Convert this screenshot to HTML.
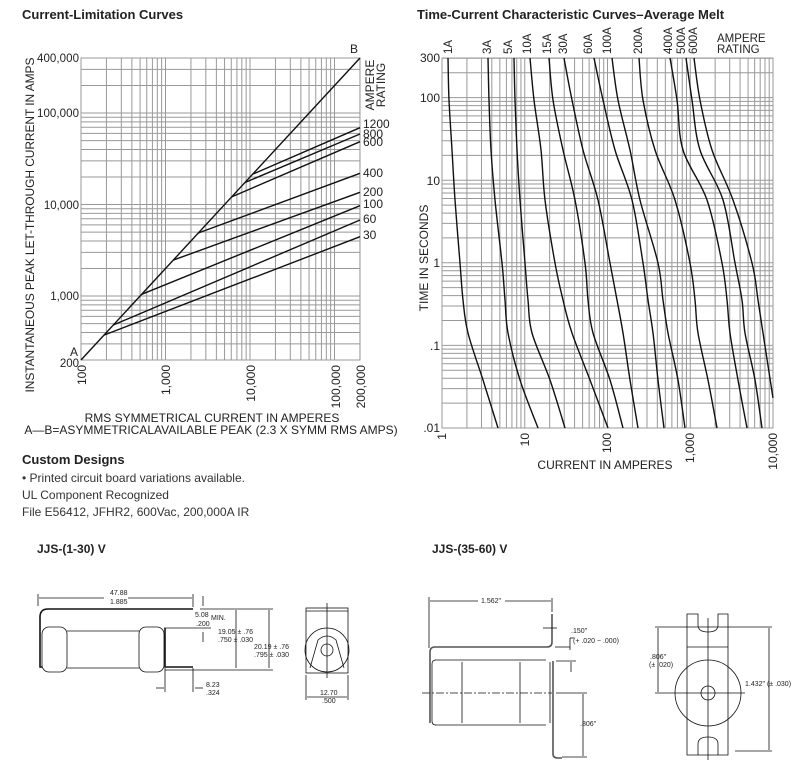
<!DOCTYPE html>
<html><head><meta charset="utf-8">
<style>
html,body{margin:0;padding:0;background:#fff;}
body{width:803px;height:771px;overflow:hidden;position:relative;font-family:"Liberation Sans",sans-serif;}
svg{position:absolute;left:0;top:0;}
</style></head>
<body>
<svg id="s" width="803" height="771" viewBox="0 0 803 771" xmlns="http://www.w3.org/2000/svg" font-family="Liberation Sans, sans-serif">
<g id="gl"></g>
<g id="gr"></g>
<text x="22" y="19" font-size="13" font-weight="bold" fill="#222">Current-Limitation Curves</text>
<text x="417" y="19" font-size="13" font-weight="bold" fill="#222">Time-Current Characteristic Curves–Average Melt</text>

<g font-size="11.5" fill="#222" text-anchor="end">
<text x="79" y="62" textLength="42">400,000</text>
<text x="79" y="117" textLength="42">100,000</text>
<text x="79" y="209">10,000</text>
<text x="79" y="300">1,000</text>
<text x="79" y="367">200</text>
</g>
<text x="70" y="356" font-size="12" fill="#222">A</text>
<text x="350" y="53" font-size="12" fill="#222">B</text>
<g font-size="12" fill="#222" text-anchor="end">
<text transform="translate(86,365) rotate(-90)">100</text>
<text transform="translate(170,365) rotate(-90)">1,000</text>
<text transform="translate(255,365) rotate(-90)">10,000</text>
<text transform="translate(340,365) rotate(-90)">100,000</text>
<text transform="translate(365,365) rotate(-90)">200,000</text>
</g>
<text transform="translate(34,225) rotate(-90)" font-size="12" fill="#222" text-anchor="middle" textLength="335">INSTANTANEOUS PEAK LET-THROUGH CURRENT IN AMPS</text>
<text x="212" y="422" font-size="12" fill="#222" text-anchor="middle">RMS SYMMETRICAL CURRENT IN AMPERES</text>
<text x="211" y="434" font-size="12" fill="#222" text-anchor="middle">A—B=ASYMMETRICALAVAILABLE PEAK (2.3 X SYMM RMS AMPS)</text>
<g font-size="12" fill="#222" text-anchor="middle">
<text transform="translate(374,85) rotate(-90)">AMPERE</text>
<text transform="translate(385,85) rotate(-90)">RATING</text>
</g>
<g font-size="12" fill="#222">
<text x="363" y="128">1200</text>
<text x="363" y="138">800</text>
<text x="363" y="146">600</text>
<text x="363" y="177">400</text>
<text x="363" y="196">200</text>
<text x="363" y="208">100</text>
<text x="363" y="223">60</text>
<text x="363" y="239">30</text>
</g>

<g font-size="12" fill="#222" text-anchor="end">
<text x="440" y="62">300</text>
<text x="440" y="102">100</text>
<text x="440" y="185">10</text>
<text x="440" y="267">1</text>
<text x="440" y="350">.1</text>
<text x="440" y="432">.01</text>
</g>
<g font-size="12" fill="#222" text-anchor="end">
<text transform="translate(446,433) rotate(-90)">1</text>
<text transform="translate(529,433) rotate(-90)">10</text>
<text transform="translate(611,433) rotate(-90)">100</text>
<text transform="translate(694,433) rotate(-90)">1,000</text>
<text transform="translate(777,433) rotate(-90)">10,000</text>
</g>
<text transform="translate(428,258) rotate(-90)" font-size="12" fill="#222" text-anchor="middle">TIME IN SECONDS</text>
<text x="605" y="469" font-size="12" fill="#222" text-anchor="middle">CURRENT IN AMPERES</text>
<g font-size="11.5" fill="#222">
<text transform="translate(452,54) rotate(-90)">1A</text>
<text transform="translate(491,54) rotate(-90)">3A</text>
<text transform="translate(512,54) rotate(-90)">5A</text>
<text transform="translate(531,54) rotate(-90)">10A</text>
<text transform="translate(551,54) rotate(-90)">15A</text>
<text transform="translate(567,54) rotate(-90)">30A</text>
<text transform="translate(592,54) rotate(-90)">60A</text>
<text transform="translate(611,54) rotate(-90)">100A</text>
<text transform="translate(642,54) rotate(-90)">200A</text>
<text transform="translate(672,54) rotate(-90)">400A</text>
<text transform="translate(685,54) rotate(-90)">500A</text>
<text transform="translate(697,54) rotate(-90)">600A</text>
<text x="717" y="42">AMPERE</text>
<text x="717" y="53">RATING</text>
</g>

<text x="22" y="464" font-size="13" font-weight="bold" fill="#222">Custom Designs</text>
<g font-size="12" fill="#333">
<text x="22" y="482">•  Printed circuit board variations available.</text>
<text x="22" y="499">UL Component Recognized</text>
<text x="22" y="516">File E56412, JFHR2, 600Vac, 200,000A IR</text>
</g>
<text x="37" y="553" font-size="12" font-weight="bold" fill="#222">JJS-(1-30) V</text>
<text x="432" y="553" font-size="12" font-weight="bold" fill="#222">JJS-(35-60) V</text>

<g stroke="#111" fill="none" stroke-width="0.8">
<line x1="38" y1="594" x2="38" y2="606"/><line x1="193" y1="594" x2="193" y2="607"/>
<line x1="39" y1="598" x2="104" y2="598"/><line x1="128" y1="598" x2="192" y2="598"/>
<path d="M193 609 H48 Q40 609 40 617 V667 H44" stroke-width="1.6"/>
<rect x="42" y="627" width="25" height="45" rx="7" fill="#fff"/>
<rect x="139" y="627" width="25" height="45" rx="7" fill="#fff"/>
<line x1="67" y1="631" x2="139" y2="631"/><line x1="67" y1="668" x2="139" y2="668"/>
<path d="M165 628 V667 H193" stroke-width="1.6"/>
<line x1="164" y1="628" x2="211" y2="628"/>
<line x1="165" y1="670" x2="273" y2="670"/>
<line x1="200" y1="609" x2="273" y2="609"/>
<line x1="236" y1="610" x2="236" y2="668"/>
<line x1="269" y1="610" x2="269" y2="668"/>
<line x1="203" y1="596" x2="203" y2="606"/><line x1="203" y1="632" x2="203" y2="642"/>
<line x1="165" y1="668" x2="165" y2="692"/><line x1="193" y1="668" x2="193" y2="692"/>
<line x1="156" y1="688" x2="164" y2="688"/><line x1="195" y1="688" x2="203" y2="688"/>
<rect x="306" y="608" width="42" height="65"/>
<line x1="306" y1="611" x2="348" y2="611"/>
<circle cx="327" cy="650" r="22"/>
<circle cx="327" cy="650" r="6"/>
<path d="M310 668 L318 640 Q327 632 336 640 L344 668"/>
<line x1="327" y1="603" x2="327" y2="678"/>
<line x1="306" y1="675" x2="306" y2="700"/><line x1="348" y1="675" x2="348" y2="700"/>
<line x1="307" y1="697" x2="347" y2="697"/>
</g>
<g font-size="7" fill="#222">
<text x="110" y="595">47.88</text><text x="110" y="604">1.885</text>
<text x="195" y="617">5.08</text><text x="211" y="620">MIN.</text><text x="196" y="626">.200</text>
<text x="218" y="634">19.05 ± .76</text><text x="218" y="642">.750 ± .030</text>
<text x="254" y="649">20.19 ± .76</text><text x="254" y="657">.795 ± .030</text>
<text x="206" y="687">8.23</text><text x="206" y="695">.324</text>
<text x="320" y="695">12.70</text><text x="322" y="703">.500</text>
</g>

<g stroke="#111" fill="none" stroke-width="0.8">
<line x1="429" y1="597" x2="429" y2="648"/><line x1="552" y1="598" x2="552" y2="612"/>
<line x1="430" y1="601" x2="478" y2="601"/><line x1="505" y1="601" x2="551" y2="601"/>
<path d="M552 614 V642 Q552 647 547 647 H435 Q430 647 430 652 V723" stroke-width="1.6" stroke="#555"/>
<path d="M435 660 H546 M435 725 H546"/>
<path d="M432 664 Q432 660 436 660 M432 721 Q432 725 436 725 M432 664 V721"/>
<line x1="462" y1="662" x2="462" y2="723"/><line x1="520" y1="662" x2="520" y2="723"/>
<line x1="550" y1="662" x2="550" y2="723"/>
<line x1="422" y1="693" x2="552" y2="693" stroke-dasharray="8,2,2,2"/>
<path d="M553 661 V754 Q553 758 558 758 H562" stroke-width="1.6" stroke="#555"/>
<line x1="556" y1="661" x2="576" y2="661"/>
<line x1="556" y1="693" x2="587" y2="693"/>
<line x1="562" y1="757" x2="587" y2="757"/>
<line x1="583" y1="694" x2="583" y2="756"/>
<line x1="571" y1="662" x2="571" y2="672"/>
<line x1="555" y1="647" x2="570" y2="647"/>
<line x1="570" y1="638" x2="570" y2="650"/><line x1="570" y1="638" x2="574" y2="638"/>
<line x1="543" y1="628" x2="557" y2="628"/>
<path d="M687 614 V755 H728 V614 H718 V625 Q718 632 708 632 Q698 632 698 625 V614 Z"/>
<path d="M698 755 V744 Q698 737 708 737 Q718 737 718 744 V755"/>
<line x1="687" y1="647" x2="728" y2="647"/>
<circle cx="708" cy="693" r="33"/>
<circle cx="708" cy="693" r="7"/>
<line x1="708" y1="618" x2="708" y2="760"/>
<line x1="655" y1="627" x2="772" y2="627"/>
<line x1="655" y1="693" x2="745" y2="693"/>
<line x1="735" y1="751" x2="772" y2="751"/>
<line x1="658" y1="628" x2="658" y2="692"/>
<line x1="769" y1="628" x2="769" y2="750"/>
</g>
<g font-size="7" fill="#222">
<text x="481" y="603">1.562"</text>
<text x="571" y="633">.150"</text><text x="573" y="643">(+ .020 − .000)</text>
<text x="580" y="726">.806"</text>
<text x="650" y="659">.806"</text><text x="649" y="667">(± .020)</text>
<text x="745" y="686">1.432" (± .030)</text>
</g>
</svg>
<script>
var NS="http://www.w3.org/2000/svg";
function el(p,t,a){var e=document.createElementNS(NS,t);for(var k in a)e.setAttribute(k,a[k]);p.appendChild(e);return e;}
var gl=document.getElementById('gl'),gr=document.getElementById('gr');
var L=Math.log10;
function lx(v){return 81+84.5*L(v/100);} function ly(v){return 360-91.5*L(v/200);}
var g='#999';
[100,1000,10000,100000].forEach(function(d){for(var m=1;m<10;m++){var v=d*m;if(v<100||v>200000)continue;var x=lx(v);el(gl,'line',{x1:x,y1:58,x2:x,y2:360,stroke:g,'stroke-width':1});}});
[100,1000,10000,100000].forEach(function(d){for(var m=1;m<10;m++){var v=d*m;if(v<200||v>400000)continue;var y=ly(v);el(gl,'line',{x1:81,y1:y,x2:360,y2:y,stroke:g,'stroke-width':1});}});
el(gl,'rect',{x:81,y:58,width:279,height:302,fill:'none',stroke:g,'stroke-width':1});
el(gl,'line',{x1:81,y1:360,x2:360,y2:58,stroke:'#111','stroke-width':1.4});
var br=[[252.7,127.7],[245,134],[231.7,141.7],[198.3,173.3],[173.3,192.3],[141.7,205.7],[113.3,220],[104,236.7]];
br.forEach(function(b){var y0=360-(b[0]-81)*302/279;el(gl,'line',{x1:b[0],y1:y0,x2:360,y2:b[1],stroke:'#111','stroke-width':1.4});});
function rx(v){return 442+82.75*L(v);} function ry(v){return 428-82.6*L(v/0.01);}
[1,10,100,1000].forEach(function(d){for(var m=1;m<10;m++){var x=rx(d*m);el(gr,'line',{x1:x,y1:58,x2:x,y2:428,stroke:g,'stroke-width':1});}});
[0.01,0.1,1,10,100].forEach(function(d){for(var m=1;m<10;m++){var v=d*m;if(v>300.1)continue;var y=ry(v);el(gr,'line',{x1:442,y1:y,x2:773,y2:y,stroke:g,'stroke-width':1});}});
el(gr,'rect',{x:442,y:58,width:331,height:370,fill:'none',stroke:g,'stroke-width':1});
var ys=[58,100,150,200,263,300,333,380,428];
var cs=[
[448,449,452,455,460,463,468,483,498],
[488,489,491,495,502,505,508,520,538],
[514,515,517,520,525,528,532,550,565],
[530,534,541,545,555,563,572,590,608],
[549,553,563,575,585,588,593,610,623],
[564,572,583,598,610,617,623,630,638],
[594,603,615,632,643,648,653,658,664],
[612,618,630,640,658,663,668,678,685],
[639,643,655,675,690,695,698,708,717],
[670,677,683,707,722,727,730,738,747],
[686,692,700,723,735,742,745,755,762],
[694,700,712,733,752,758,763,773,null]];
function smooth(p){var d='M'+p[0][0]+' '+p[0][1];for(var i=0;i<p.length-1;i++){var a=p[i-1]||p[i],b=p[i],c=p[i+1],e=p[i+2]||c;
d+=' C'+(b[0]+(c[0]-a[0])/6).toFixed(1)+' '+(b[1]+(c[1]-a[1])/6).toFixed(1)+' '+(c[0]-(e[0]-b[0])/6).toFixed(1)+' '+(c[1]-(e[1]-b[1])/6).toFixed(1)+' '+c[0]+' '+c[1];}return d;}
cs.forEach(function(c){var p=[];for(var i=0;i<ys.length;i++){if(c[i]===null)continue;p.push([c[i],ys[i]]);}
if(c[8]===null)p[p.length-1]=[773,398];
el(gr,'path',{d:smooth(p),fill:'none',stroke:'#111','stroke-width':1.4,'stroke-linejoin':'round'});});
</script>
</body></html>
